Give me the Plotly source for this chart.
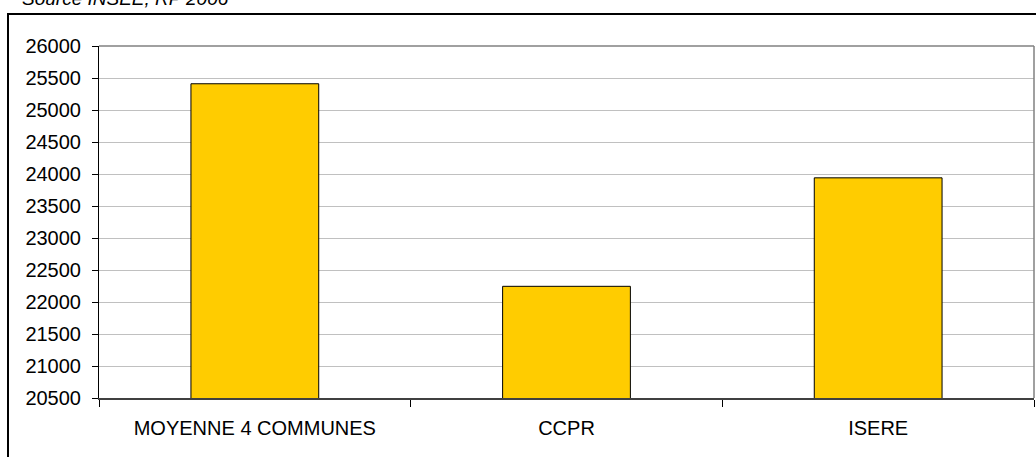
import plotly.graph_objects as go

categories = ["MOYENNE 4 COMMUNES", "CCPR", "ISERE"]
values = [25410, 22245, 23940]
y_ticks = [20500, 21000, 21500, 22000, 22500, 23000, 23500, 24000, 24500, 25000, 25500, 26000]
y_tick_labels = [str(v) for v in y_ticks]
source_text = "Source INSEE, RP 2006"

W, H = 1036, 457
L, R, T, B = 99, 2, 46, 59
pw, ph = W - L - R, H - T - B

def px_x(x):
    return (x - L) / pw

def px_y(y):
    return 1 - (y - T) / ph

fig = go.Figure()
fig.add_trace(go.Bar(
    x=categories, y=values,
    marker=dict(color="#FFCC00", line=dict(color="#000000", width=1)),
    width=0.41,
))

fig.update_layout(
    width=W, height=H,
    margin=dict(l=L, r=R, t=T, b=B, pad=0),
    paper_bgcolor="white", plot_bgcolor="white",
    showlegend=False,
    font=dict(family="Liberation Sans, Arial, sans-serif", size=20, color="#000000"),
    bargap=0.59,
    xaxis=dict(
        showgrid=False, showline=True, linecolor="#404040", linewidth=1.5,
        ticks="outside", ticklen=7, tickcolor="#000000", tickwidth=1,
        tickson="boundaries", tickfont=dict(size=20),
        range=[-0.5, 2.5], ticklabelstandoff=11,
    ),
    yaxis=dict(
        range=[20500, 26000], tickvals=y_ticks, ticktext=y_tick_labels,
        showgrid=True, gridcolor="#c0c0c0", gridwidth=1.2,
        showline=True, linecolor="#000000", linewidth=1,
        ticks="outside", ticklen=6, tickcolor="#000000", tickwidth=1,
        tickfont=dict(size=20), ticklabelstandoff=7, zeroline=False,
    ),
    shapes=[
        dict(type="line", xref="paper", yref="paper", x0=0, x1=1, y0=1, y1=1,
             line=dict(color="#808080", width=1.5)),
        dict(type="line", xref="paper", yref="paper", x0=1, x1=1, y0=0, y1=1,
             line=dict(color="#808080", width=1.5)),
        dict(type="rect", xref="paper", yref="paper",
             x0=px_x(8), x1=px_x(1050), y0=px_y(14), y1=px_y(470),
             line=dict(color="#000000", width=2), fillcolor="rgba(0,0,0,0)"),
    ],
    annotations=[
        dict(text=source_text, xref="paper", yref="paper",
             x=px_x(20), y=px_y(-2), xanchor="left", yanchor="middle",
             showarrow=False, font=dict(size=19, style="italic", color="#000000")),
    ],
)

fig.write_html("out.html", config={"displayModeBar": False},
               post_script="document.body.style.margin='0';document.body.style.overflow='hidden';")
